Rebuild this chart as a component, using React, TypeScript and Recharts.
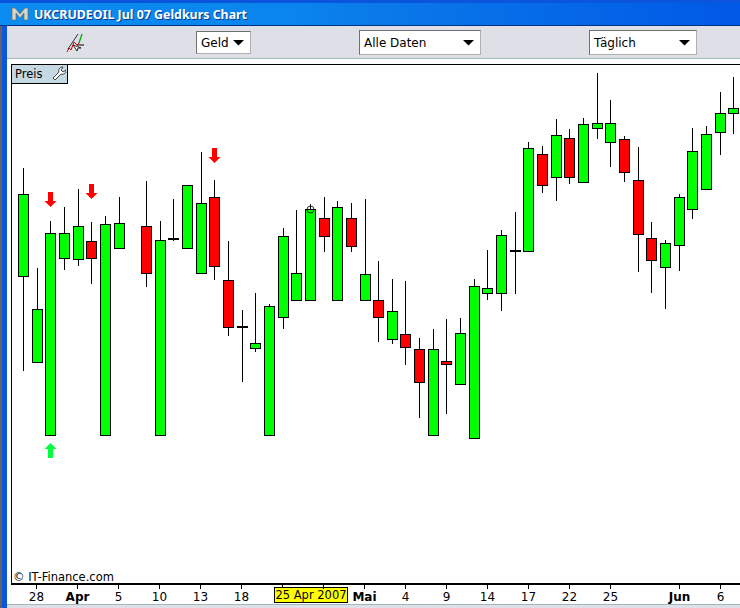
import React from "react";
import { ComposedChart, Bar, Line, XAxis, YAxis } from "recharts";

// trading days, 27 Mar - 7 Jun 2007
const dates = [
    "27.3", "28.3", "29.3", "30.3", "2.4", "3.4", "4.4", "5.4", "6.4", "9.4", "10.4", "11.4", "12.4", "13.4",
    "16.4", "17.4", "18.4", "19.4", "20.4", "23.4", "24.4", "25.4", "26.4", "27.4", "30.4", "1.5", "2.5", "3.5",
    "4.5", "7.5", "8.5", "9.5", "10.5", "11.5", "14.5", "15.5", "16.5", "17.5", "18.5", "21.5", "22.5", "23.5",
    "24.5", "25.5", "28.5", "29.5", "30.5", "31.5", "1.6", "4.6", "5.6", "6.6", "7.6",
];

// no price axis in the picture, so prices are in chart points above the time axis
const highs = [
    417, 317, 364, 378, 396, 363, 369, 388, 359, 404, 364, 386, 400, 433, 405, 344, 275, 292, 281, 357, 375, 380, 388,
    384, 382, 386, 324, 306, 304, 247, 256, 266, 267, 306, 335, 355, 373, 443, 439, 466, 456, 467, 512, 485, 449, 438,
    363, 345, 391, 457, 459, 493, 508,
];
const lows = [
    214, 222, 149, 315, 319, 301, 149, 336, 359, 298, 149, 344, 336, 311, 305, 249, 203, 233, 149, 256, 284, 284, 333,
    284, 333, 284, 243, 241, 220, 167, 149, 171, 200, 146, 285, 274, 291, 333, 392, 384, 401, 402, 446, 418, 403, 313,
    292, 276, 314, 366, 395, 430, 451,
];
const opens = [
    308, 222, 149, 326, 325, 343, 149, 336, 359, 358, 149, 345, 336, 311, 387, 304, 257, 236, 149, 267, 284, 284, 366,
    284, 366, 284, 284, 245, 250, 235, 149, 223, 200, 146, 291, 291, 333, 333, 430, 407, 446, 402, 456, 442, 445, 404,
    346, 317, 339, 375, 395, 452, 471,
];
const closes = [
    390, 275, 351, 351, 358, 326, 360, 361, 359, 311, 344, 346, 399, 381, 318, 257, 258, 241, 278, 348, 311, 375, 348,
    377, 338, 310, 267, 273, 237, 202, 235, 220, 251, 298, 296, 349, 334, 436, 399, 449, 407, 460, 461, 461, 412, 350,
    324, 341, 387, 433, 450, 471, 476,
];

const sellSignals: Record<string, number> = { "29.3": 377, "3.4": 385, "16.4": 421 };
const buySignals: Record<string, number> = { "29.3": 141 };
const markedDay = "25.4";
const markedLabel = "25 Apr 2007";

const tickDates = [
    "28.3", "2.4", "5.4", "10.4", "13.4", "18.4", "23.4", "25.4", "26.4", "1.5", "4.5", "9.5", "14.5", "17.5", "22.5",
    "25.5", "1.6", "6.6",
];
const tickLabels: Record<string, string> = {
    "28.3": "28", "2.4": "Apr", "5.4": "5", "10.4": "10", "13.4": "13", "18.4": "18", "23.4": "", "25.4": markedLabel,
    "26.4": "", "1.5": "Mai", "4.5": "4", "9.5": "9", "14.5": "14", "17.5": "17", "22.5": "22", "25.5": "25",
    "1.6": "Jun", "6.6": "6",
};
const months = ["Apr", "Mai", "Jun"];

const data = dates.map((date, i) => ({
    date,
    range: [lows[i], highs[i]],
    open: opens[i],
    close: closes[i],
    high: highs[i],
    low: lows[i],
    sell: sellSignals[date] ?? null,
    buy: buySignals[date] ?? null,
    marked: date === markedDay ? closes[i] : null,
}));

const UI_FONT = "'DejaVu Sans', sans-serif";
const CANDLE_GREEN = "#00ff00";
const CANDLE_RED = "#ff0000";

function Candle(props: any) {
    const { x, y, width, height, payload } = props;
    if (x == null) return null;
    const { high, low, open, close } = payload;
    const k = high === low ? 0 : Math.abs(height) / (high - low);
    const cx = Math.round(x + width / 2) + 0.5;
    const top = Math.round(y) + 0.5;
    const yOf = (v: number) => Math.round(y + (high - v) * k) + 0.5;
    const bodyTop = yOf(Math.max(open, close));
    const bodyBottom = yOf(Math.min(open, close));
    const bottom = yOf(low);
    return (
        <g shapeRendering="crispEdges">
            <line x1={cx} x2={cx} y1={top} y2={bottom} stroke="#000" strokeWidth={1} />
            <rect
                x={cx - 5}
                y={bodyTop}
                width={10}
                height={bodyBottom - bodyTop}
                fill={close >= open ? CANDLE_GREEN : CANDLE_RED}
                stroke="#000"
                strokeWidth={1}
            />
        </g>
    );
}

function SellArrow(props: any) {
    const { cx, cy, value } = props;
    if (value == null || cy == null) return null;
    const x = Math.round(cx) + 0.5;
    return (
        <path
            key={`sell-${cx}`}
            d={`M${x - 2.5} ${cy - 15}h5v9h3.5l-6 6l-6 -6h3.5z`}
            fill={CANDLE_RED}
        />
    );
}

function BuyArrow(props: any) {
    const { cx, cy, value } = props;
    if (value == null || cy == null) return null;
    const x = Math.round(cx) + 0.5;
    return (
        <path
            key={`buy-${cx}`}
            d={`M${x - 2.5} ${cy + 15}h5v-9h3.5l-6 -6l-6 6h3.5z`}
            fill="#00ff40"
        />
    );
}

function MarkedDot(props: any) {
    const { cx, cy, value } = props;
    if (value == null || cy == null) return null;
    const x = Math.round(cx) + 0.5;
    return (
        <g key="marked" fill="none" stroke="#000" strokeWidth={0.8}>
            <circle cx={x} cy={cy + 0.5} r={3.5} />
            <line x1={x} x2={x} y1={cy - 5} y2={cy + 1} />
            <line x1={x - 3.5} x2={x + 3.5} y1={cy + 0.5} y2={cy + 0.5} />
        </g>
    );
}

function DateTick(props: any) {
    const { x, y, payload } = props;
    const label = tickLabels[payload.value];
    const px = Math.round(x) + 0.5;
    if (payload.value === markedDay) {
        return (
            <g>
                <rect x={px - 36} y={y + 3.5} width={73} height={14.5} fill="#ffff00" stroke="#000" shapeRendering="crispEdges" />
                <text x={px + 0.5} y={y + 15} textAnchor="middle" fontFamily={UI_FONT} fontSize={11.5} fill="#000">
                    {label}
                </text>
            </g>
        );
    }
    return (
        <g>
            <line x1={px} x2={px} y1={y + 1} y2={y + 5} stroke="#000" shapeRendering="crispEdges" />
            <text
                x={px}
                y={y + 17}
                textAnchor="middle"
                fontFamily={UI_FONT}
                fontSize={12}
                fontWeight={months.includes(label) ? 700 : 400}
                fill="#000"
            >
                {label}
            </text>
        </g>
    );
}

function Dropdown({ left, top, width, height, label }: { left: number; top: number; width: number; height: number; label: string }) {
    return (
        <div
            style={{
                position: "absolute",
                left,
                top,
                width: width - 2,
                height: height - 2,
                background: "#fff",
                borderTop: "1px solid #707070",
                borderLeft: "1px solid #707070",
                borderRight: "1px solid #b0b0b0",
                borderBottom: "1px solid #b0b0b0",
                fontFamily: UI_FONT,
                fontSize: 12,
                fontWeight: 500,
                lineHeight: `${height - 1}px`,
                color: "#000",
            }}
        >
            <span style={{ position: "absolute", left: 4, top: 0 }}>{label}</span>
            <svg style={{ position: "absolute", right: 5, top: height / 2 - 4 }} width={12} height={6}>
                <path d="M0 0h11l-5.5 5.5z" fill="#000" />
            </svg>
        </div>
    );
}

export default function App() {
    return (
        <div style={{ position: "fixed", left: 0, top: 0, width: 740, height: 608, overflow: "hidden", background: "#fff" }}>
            {/* window frame */}
            <div style={{ position: "absolute", left: 0, top: 0, width: 2, height: 608, background: "#5f6368" }} />
            <div style={{ position: "absolute", left: 2, top: 0, width: 5, height: 608, background: "#0a56dc" }} />
            <div
                style={{
                    position: "absolute",
                    left: 0,
                    top: 0,
                    width: 740,
                    height: 25,
                    background: "linear-gradient(90deg,#0a8df2 0%,#0a84ee 40%,#0a7ae9 50%,#0058e6 100%)",
                    borderBottom: "1px solid #00337f",
                }}
            >
                <div style={{ position: "absolute", left: 0, top: 0, width: 740, height: 3, background: "#0a55dc" }} />
            </div>
            <svg style={{ position: "absolute", left: 11, top: 6 }} width={18} height={16}>
                <path d="M1 14V2h3l5 6l5 -6h3v12h-4V7l-4 5l-4 -5v7z" fill="#d8d4c8" stroke="#6e6e66" strokeWidth={0.7} />
            </svg>
            <div
                style={{
                    position: "absolute",
                    left: 34,
                    top: 6,
                    fontFamily: "'Noto Sans', sans-serif",
                    fontWeight: 700,
                    fontSize: 12.4,
                    lineHeight: "17px",
                    color: "#fff",
                    textShadow: "1px 1px 0 #0a3a8c",
                    whiteSpace: "nowrap",
                }}
            >
                UKCRUDEOIL Jul 07 Geldkurs Chart
            </div>

            {/* toolbar */}
            <div style={{ position: "absolute", left: 7, top: 26, width: 733, height: 32, background: "#dfdfe8" }} />
            <div style={{ position: "absolute", left: 7, top: 58, width: 733, height: 1, background: "#9fb9bf" }} />
            <svg style={{ position: "absolute", left: 66, top: 32 }} width={20} height={22}>
                <path d="M1 20l2 -4l2 2l3 -8l3 3l3 -3" fill="none" stroke="#d80000" strokeWidth={1} />
                <path d="M13 11l3 -9" fill="none" stroke="#00b000" strokeWidth={1.3} />
                <path d="M2 17l10 -15" fill="none" stroke="#000" strokeWidth={0.8} />
                <path d="M7 13l4 6l1 -3l3 0z" fill="#fff" stroke="#000" strokeWidth={0.8} />
                <path d="M11 13h7" stroke="#000" strokeWidth={1} />
            </svg>
            <Dropdown left={196} top={31} width={55} height={23} label="Geld" />
            <Dropdown left={359} top={30} width={122} height={25} label="Alle Daten" />
            <Dropdown left={589} top={30} width={108} height={25} label="Täglich" />

            {/* chart panel */}
            <div
                style={{
                    position: "absolute",
                    left: 11,
                    top: 64,
                    width: 729,
                    height: 521,
                    borderLeft: "1px solid #000",
                    borderTop: "1px solid #000",
                    borderBottom: "2px solid #000",
                    boxSizing: "border-box",
                }}
            />
            <div
                style={{
                    position: "absolute",
                    left: 11,
                    top: 64,
                    width: 55,
                    height: 18,
                    background: "#c5d9e3",
                    border: "1px solid #000",
                    fontFamily: UI_FONT,
                    fontSize: 11.5,
                    lineHeight: "18px",
                    color: "#000",
                }}
            >
                <span style={{ position: "absolute", left: 3, top: 0 }}>Preis</span>
                <svg style={{ position: "absolute", left: 39, top: 1 }} width={15} height={15}>
                    <path
                        d="M2 12l6 -6c-1 -3 1 -5 4 -5l-2 3l2 2l3 -2c0 3 -2 5 -5 4l-6 6z"
                        fill="#fff"
                        stroke="#333"
                        strokeWidth={0.9}
                    />
                </svg>
            </div>
            <div
                style={{
                    position: "absolute",
                    left: 13,
                    top: 570,
                    fontFamily: UI_FONT,
                    fontSize: 11.5,
                    lineHeight: "14px",
                    color: "#000",
                    whiteSpace: "nowrap",
                }}
            >
                © IT-Finance.com
            </div>

            <div style={{ position: "absolute", left: 7, top: 604, width: 733, height: 1, background: "#9fb9bf" }} />
            <div style={{ position: "absolute", left: 7, top: 605, width: 733, height: 3, background: "#dfdfe8" }} />

            <div style={{ position: "absolute", left: 0, top: 0 }}>
                <ComposedChart width={740} height={608} data={data} margin={{ top: 64, right: 0, bottom: 0, left: 16 }}>
                    <XAxis
                        dataKey="date"
                        ticks={tickDates}
                        interval={0}
                        tick={<DateTick />}
                        tickLine={false}
                        axisLine={false}
                        tickSize={0}
                        tickMargin={0}
                        height={24}
                    />
                    <YAxis hide type="number" domain={[0, 520]} />
                    <Bar dataKey="range" barSize={10} shape={<Candle />} isAnimationActive={false} />
                    <Line dataKey="sell" stroke="none" dot={<SellArrow />} activeDot={false} isAnimationActive={false} connectNulls={false} />
                    <Line dataKey="buy" stroke="none" dot={<BuyArrow />} activeDot={false} isAnimationActive={false} connectNulls={false} />
                    <Line dataKey="marked" stroke="none" dot={<MarkedDot />} activeDot={false} isAnimationActive={false} connectNulls={false} />
                </ComposedChart>
            </div>
        </div>
    );
}
